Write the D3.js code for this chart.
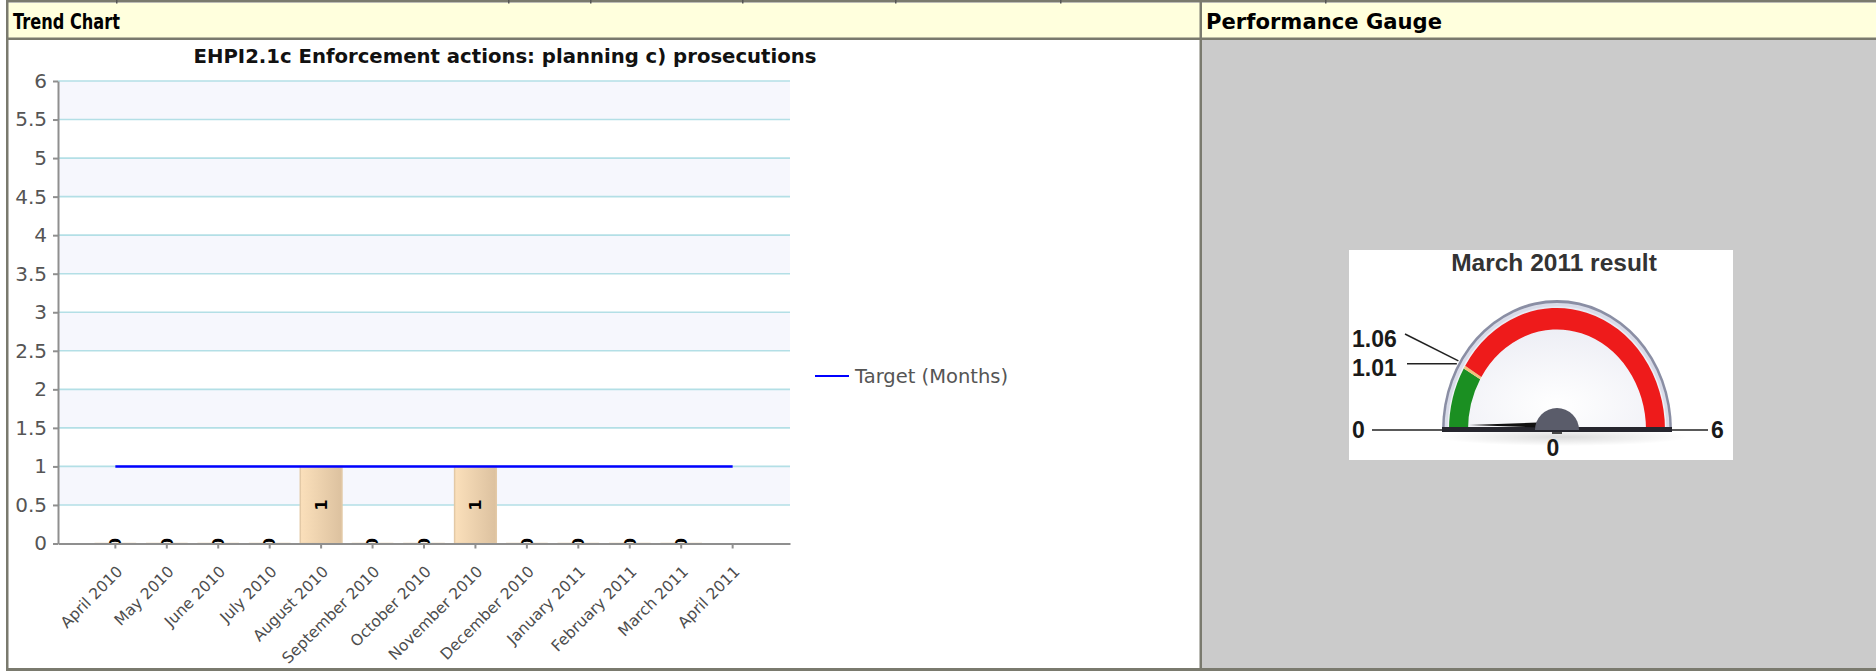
<!DOCTYPE html>
<html><head><meta charset="utf-8">
<script src="https://cdn.jsdelivr.net/npm/d3@7/dist/d3.min.js"></script>
<style>html,body{margin:0;padding:0;background:#fff;overflow:hidden}</style>
</head><body>
<svg id="c" width="1876" height="671" xmlns="http://www.w3.org/2000/svg"></svg>
<script>
// ---------- data ----------
const months = ["April 2010","May 2010","June 2010","July 2010","August 2010","September 2010","October 2010","November 2010","December 2010","January 2011","February 2011","March 2011","April 2011"];
const actualValues = [0,0,0,0,1,0,0,1,0,0,0,0,null];
const targetValues = [1,1,1,1,1,1,1,1,1,1,1,1,1];
const yTicks = [0,0.5,1,1.5,2,2.5,3,3.5,4,4.5,5,5.5,6];
const chartTitle = "EHPI2.1c Enforcement actions: planning c) prosecutions";
const seriesName = "Target (Months)";
const panelTitles = ["Trend Chart","Performance Gauge"];
const gaugeTitle = "March 2011 result";
const gaugeMin = 0, gaugeMax = 6, gaugeValue = 0;
const gaugeBreaks = [0, 1.01, 1.06, 6];
const gaugeColors = ["#1b8f22", "#f1c27a", "#ee1b1b"];

// ---------- frame ----------
const svg = d3.select("#c");
const border = "#7a7a6e";
svg.append("rect").attr("x",0).attr("y",0).attr("width",1876).attr("height",671).attr("fill","#fff");
svg.append("rect").attr("x",8).attr("y",3).attr("width",1868).attr("height",35).attr("fill","#ffffdd");
svg.append("rect").attr("x",1202).attr("y",40).attr("width",674).attr("height",628).attr("fill","#cbcbcb");
svg.append("rect").attr("x",6).attr("y",0).attr("width",1870).attr("height",2.5).attr("fill",border);
svg.append("rect").attr("x",6).attr("y",37.5).attr("width",1870).attr("height",2.5).attr("fill",border);
svg.append("rect").attr("x",6).attr("y",668).attr("width",1870).attr("height",3).attr("fill",border);
svg.append("rect").attr("x",6).attr("y",0).attr("width",2.5).attr("height",671).attr("fill",border);
svg.append("rect").attr("x",1199.5).attr("y",0).attr("width",2.5).attr("height",671).attr("fill",border);
[116,508,590,742,895,1060,1325].forEach(x=>{
  svg.append("rect").attr("x",x).attr("y",0).attr("width",1.5).attr("height",3.5).attr("fill","#555");
});
const hdrWidths = [107, 236];
svg.selectAll("text.hdr").data(panelTitles).enter().append("text")
  .attr("x",(d,i)=> i===0 ? 13 : 1206).attr("y",28.5)
  .attr("font-family","DejaVu Sans, Verdana, sans-serif").attr("font-weight","bold")
  .attr("font-size",20.5).attr("fill","#000")
  .attr("textLength",(d,i)=>hdrWidths[i]).attr("lengthAdjust","spacingAndGlyphs")
  .text(d=>d);

// ---------- trend chart ----------
const chartFont = "DejaVu Sans, Verdana, sans-serif";
const x = d3.scaleBand().domain(months).range([58,790]).paddingInner(0.19).paddingOuter(0.71);
const y = d3.scaleLinear().domain([0,6]).range([543.5,81]);
const g = svg.append("g");

const defs = svg.append("defs");
const grad = defs.append("linearGradient").attr("id","barGrad").attr("x1","0").attr("x2","1").attr("y1","0").attr("y2","0");
grad.append("stop").attr("offset","0%").attr("stop-color","#fbe0bb");
grad.append("stop").attr("offset","100%").attr("stop-color","#dcc19f");
defs.append("clipPath").attr("id","plotClip").append("rect")
  .attr("x",x.range()[0]).attr("y",y(6)).attr("width",x.range()[1]-x.range()[0]).attr("height",y(0)-y(6));

const bands = d3.pairs(yTicks);
g.selectAll("rect.band").data(bands).enter().append("rect")
  .attr("x",x.range()[0]).attr("width",x.range()[1]-x.range()[0])
  .attr("y",d=>y(d[1])).attr("height",d=>y(d[0])-y(d[1]))
  .attr("fill",(d,i)=> i%2===1 ? "#f6f7fd" : "#ffffff");
g.selectAll("line.grid").data(yTicks.slice(1)).enter().append("line")
  .attr("x1",x.range()[0]).attr("x2",x.range()[1])
  .attr("y1",d=>y(d)).attr("y2",d=>y(d))
  .attr("stroke","#b3dfe6").attr("stroke-width",1.6);

// bars
const barData = months.map((m,i)=>({m, v: actualValues[i]})).filter(d=>d.v!==null);
const bw = x.bandwidth();
g.selectAll("path.bar").data(barData).enter().append("path")
  .attr("d",d=>{const x0=x(d.m), y0=y(0), y1=y(d.v); return `M${x0},${y0}V${y1}H${x0+bw}V${y0}Z`;})
  .attr("fill","url(#barGrad)").attr("stroke","#e3c9a6").attr("stroke-width",1.5);
g.append("g").attr("clip-path","url(#plotClip)")
  .selectAll("text").data(barData).enter().append("text")
  .attr("transform",d=>`translate(${x(d.m)+bw/2},${(y(d.v)+y(0))/2}) rotate(-90)`)
  .attr("text-anchor","middle").attr("dy","0.36em")
  .attr("font-family",chartFont).attr("font-weight","bold").attr("font-size",16).attr("fill","#000")
  .text(d=>d.v);

// target line
const line = d3.line().x((d,i)=>x(months[i])+bw/2).y(d=>y(d));
g.append("path").datum(targetValues).attr("d",line).attr("fill","none").attr("stroke","#0000ff").attr("stroke-width",2.5);

// axes
const yAxis = g.append("g").attr("transform",`translate(${x.range()[0]},0)`)
  .call(d3.axisLeft(y).tickValues(yTicks).tickSize(5).tickSizeOuter(0).tickPadding(6).tickFormat(d=>String(d)));
yAxis.selectAll("path,line").attr("stroke","#8f8f8f").attr("stroke-width",2);
yAxis.selectAll("text").attr("font-family",chartFont).attr("font-size",20).attr("fill","#555");

const xAxis = g.append("g").attr("transform",`translate(0,${y(0)})`)
  .call(d3.axisBottom(x).tickSize(5).tickSizeOuter(0));
xAxis.selectAll("path,line").attr("stroke","#8f8f8f").attr("stroke-width",2);
xAxis.selectAll("text")
  .attr("font-family",chartFont).attr("font-size",15.5).attr("fill","#4d4d4d")
  .attr("text-anchor","end").attr("y",0).attr("dy","0.73em")
  .attr("transform","translate(0,21) rotate(-45)");

// title
svg.append("text").attr("x",505).attr("y",63).attr("text-anchor","middle")
  .attr("font-family",chartFont).attr("font-weight","bold").attr("font-size",19.5).attr("fill","#111")
  .attr("textLength",623).attr("lengthAdjust","spacingAndGlyphs")
  .text(chartTitle);
// legend
const lg = svg.append("g").attr("transform","translate(815,376)");
lg.append("line").attr("x1",0).attr("x2",34).attr("y1",0).attr("y2",0).attr("stroke","#0000ff").attr("stroke-width",2);
lg.append("text").attr("x",40).attr("y",0).attr("dy","0.36em").attr("font-family",chartFont).attr("font-size",19.5).attr("fill","#555").text(seriesName);

// ---------- gauge ----------
const gx = 1557, gy = 430, sy = 1.13;
const gFont = "Liberation Sans, Arial, sans-serif";
svg.append("rect").attr("x",1349).attr("y",250).attr("width",384).attr("height",210).attr("fill","#fff");
svg.append("text").attr("x",1554).attr("y",271).attr("text-anchor","middle")
  .attr("font-family",gFont).attr("font-weight","bold").attr("font-size",24.5).attr("fill","#333").text(gaugeTitle);

const ang = d3.scaleLinear().domain([gaugeMin,gaugeMax]).range([-Math.PI/2, Math.PI/2]);
const gg = svg.append("g").attr("transform",`translate(${gx},${gy}) scale(1,${sy})`);
const faceGrad = defs.append("radialGradient").attr("id","faceGrad").attr("cx","0.5").attr("cy","0.8").attr("r","0.8");
faceGrad.append("stop").attr("offset","0").attr("stop-color","#ffffff");
faceGrad.append("stop").attr("offset","1").attr("stop-color","#e8e9f2");
const shGrad = defs.append("radialGradient").attr("id","shGrad");
shGrad.append("stop").attr("offset","0").attr("stop-color","#000").attr("stop-opacity",0.14);
shGrad.append("stop").attr("offset","1").attr("stop-color","#000").attr("stop-opacity",0);
svg.append("ellipse").attr("cx",gx+6).attr("cy",gy+7).attr("rx",125).attr("ry",9).attr("fill","url(#shGrad)");
gg.append("path").attr("d",d3.arc()({innerRadius:0,outerRadius:115,startAngle:-Math.PI/2,endAngle:Math.PI/2}))
  .attr("fill","#8a8ea4");
gg.append("path").attr("d",d3.arc()({innerRadius:0,outerRadius:112.5,startAngle:-Math.PI/2,endAngle:Math.PI/2}))
  .attr("fill","#d9dce9");
gg.append("path").attr("d",d3.arc()({innerRadius:0,outerRadius:109.5,startAngle:-Math.PI/2,endAngle:Math.PI/2}))
  .attr("fill","url(#faceGrad)");
gg.selectAll("path.rng").data(d3.pairs(gaugeBreaks)).enter().append("path")
  .attr("d",d=>d3.arc()({innerRadius:89,outerRadius:108,startAngle:ang(d[0]),endAngle:ang(d[1])}))
  .attr("fill",(d,i)=>gaugeColors[i]);
svg.append("rect").attr("x",gx-115).attr("y",gy-3).attr("width",230).attr("height",5).attr("fill","#26262e");
const na = ang(gaugeValue);
const nLen = 88, nW = 3.2, py = gy-5;
const tip = [gx + nLen*Math.sin(na), py - nLen*Math.cos(na)];
const perp = [Math.cos(na), Math.sin(na)];
svg.append("path").attr("d",`M${tip[0]},${tip[1]}L${gx+perp[0]*nW},${py+perp[1]*nW}L${gx-perp[0]*nW},${py-perp[1]*nW}Z`).attr("fill","#111");
svg.append("path").attr("transform",`translate(${gx},${gy})`)
  .attr("d",d3.arc()({innerRadius:0,outerRadius:22,startAngle:-Math.PI/2,endAngle:Math.PI/2})).attr("fill","#5a5c6a");
svg.append("line").attr("x1",gx-5).attr("x2",gx+5).attr("y1",gy+3).attr("y2",gy+3).attr("stroke","#111").attr("stroke-width",1.5);

function gLabel(txt, tx, ty, anchor){
  svg.append("text").attr("x",tx).attr("y",ty).attr("dy","0.36em").attr("text-anchor",anchor)
    .attr("font-family",gFont).attr("font-weight","bold").attr("font-size",23).attr("fill","#1a1a1a").text(txt);
}
const fmt = d=>String(d);
svg.append("line").attr("x1",1372).attr("x2",gx-115).attr("y1",gy).attr("y2",gy).attr("stroke","#222").attr("stroke-width",1.5);
gLabel(fmt(gaugeMin), 1352, gy, "start");
svg.append("line").attr("x1",gx+115).attr("x2",1708).attr("y1",gy).attr("y2",gy).attr("stroke","#222").attr("stroke-width",1.5);
gLabel(fmt(gaugeMax), 1711, gy, "start");
gLabel(fmt(gaugeValue), gx-4, gy+18, "middle");
function edgePt(v, r){ const a = ang(v); return [gx + r*Math.sin(a), gy - r*Math.cos(a)*sy]; }
const p1 = edgePt(gaugeBreaks[1], 116);
svg.append("line").attr("x1",1407).attr("x2",p1[0]).attr("y1",p1[1]).attr("y2",p1[1]).attr("stroke","#222").attr("stroke-width",1.5);
gLabel(fmt(gaugeBreaks[1]), 1352, p1[1]+4, "start");
const p2 = edgePt(gaugeBreaks[2], 116);
svg.append("line").attr("x1",1405).attr("x2",p2[0]).attr("y1",334).attr("y2",p2[1]).attr("stroke","#222").attr("stroke-width",1.5);
gLabel(fmt(gaugeBreaks[2]), 1352, 339, "start");
</script>
</body></html>
